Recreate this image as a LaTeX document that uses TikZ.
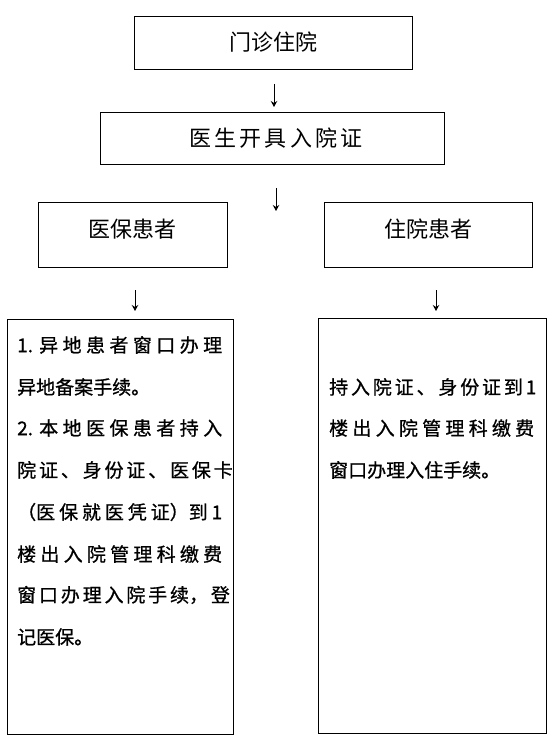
\documentclass[tikz,border=0pt]{standalone}
\usepackage{fontspec}
\setmainfont{Noto Sans CJK SC}
\newfontfamily\bodyfont[FakeBold=0.8]{Noto Sans CJK SC}
\usetikzlibrary{arrows.meta}

% spread a line of text to a fixed width
\newcommand\spreadtext[2][205pt]{\makebox[#1][s]{#2}}

\begin{document}
\begin{tikzpicture}[x=1pt,y=-1pt,
		box/.style={draw,line width=0.9pt,inner sep=0pt,font=\fontsize{22pt}{26pt}\selectfont},
		bodyline/.style={anchor=west,inner sep=0pt,font=\bodyfont\fontsize{19pt}{23pt}\selectfont},
		flow/.style={line width=1pt,-{Stealth[length=6pt,width=6.5pt,inset=2pt]}}]
		\useasboundingbox (0,0) rectangle (551,738);
		\coordinate (A1) at (274,84);
		\coordinate (A2) at (274,107);
		\coordinate (B1) at (276,188);
		\coordinate (B2) at (276,211);
		\coordinate (C1) at (135,290);
		\coordinate (C2) at (135,311);
		\coordinate (D1) at (436,290);
		\coordinate (D2) at (436,311);
		\draw[flow] (A1)--(A2);
		\draw[flow] (B1)--(B2);
		\draw[flow] (C1)--(C2);
		\draw[flow] (D1)--(D2);
		\node[box,minimum width=278pt,minimum height=53pt] (clinic) at (273,42.5) {门诊住院};
		\node[box,minimum width=344pt,minimum height=52pt] (permit) at (272,138) {\spreadtext[166pt]{医 生 开 具 入 院 证}};
		\node[box,minimum width=189pt,minimum height=65pt,text depth=12pt] (insured) at (132.5,234.5) {医保患者};
		\node[box,minimum width=208pt,minimum height=65pt,text depth=12pt] (inpatient) at (428,234.5) {住院患者};
		\node[box,minimum width=226pt,minimum height=415pt] (insuredstep) at (120,526.5) {};
		\node[box,minimum width=228pt,minimum height=415pt] (inpatientstep) at (432,525.5) {};
		\node[bodyline] (L1) at (17,345) {\spreadtext{1. 异 地 患 者 窗 口 办 理}};
		\node[bodyline] (L2) at (17,387) {异地备案手续。};
		\node[bodyline] (L3) at (17,428) {\spreadtext{2. 本 地 医 保 患 者 持 入}};
		\node[bodyline] (L4) at (17,470) {\spreadtext{院 证 、 身 份 证 、 医 保 卡}};
		\node[bodyline] (L5) at (17,512) {\spreadtext{（医 保 就 医 凭 证）到 1}};
		\node[bodyline] (L6) at (17,554) {\spreadtext{楼 出 入 院 管 理 科 缴 费}};
		\node[bodyline] (L7) at (17,595) {\spreadtext{窗 口 办 理 入 院 手 续， 登}};
		\node[bodyline] (L8) at (17,637) {记医保。};
		\node[bodyline] (R1) at (329,387) {\spreadtext{持 入 院 证 、 身 份 证 到 1}};
		\node[bodyline] (R2) at (329,428) {\spreadtext{楼 出 入 院 管 理 科 缴 费}};
		\node[bodyline] (R3) at (329,470) {窗口办理入住手续。};
	\end{tikzpicture}
\end{document}
